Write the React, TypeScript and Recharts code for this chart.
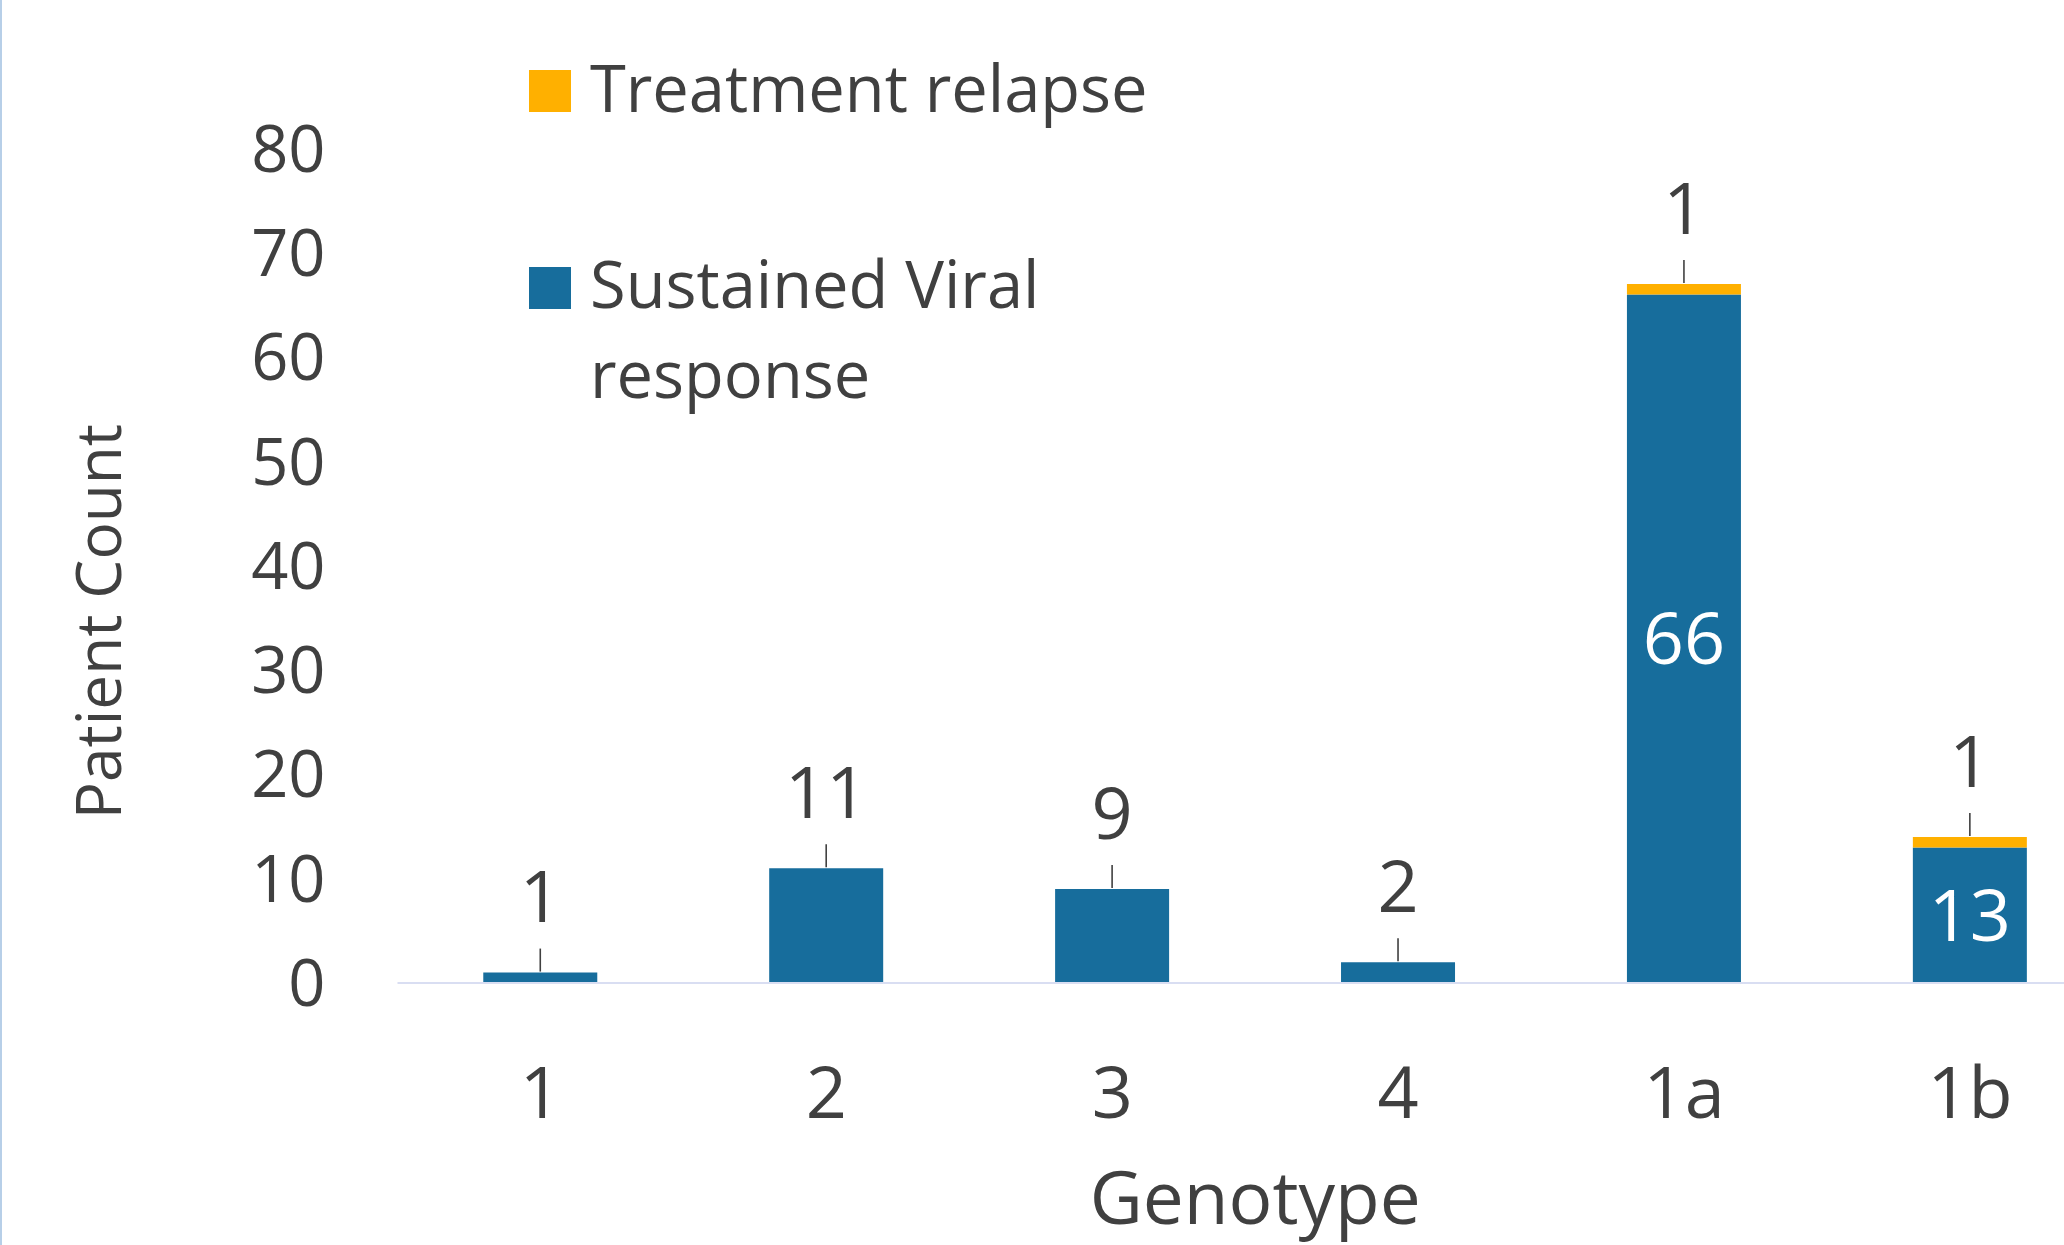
import React from 'react';
import { BarChart, Bar, XAxis, YAxis, LabelList, Label } from 'recharts';

// ---- data ----
const genotypes = ['1', '2', '3', '4', '1a', '1b'];
const sustainedViralResponse = [1, 11, 9, 2, 66, 13];
const treatmentRelapse = [0, 0, 0, 0, 1, 1];
const yTicks = [0, 10, 20, 30, 40, 50, 60, 70, 80];
const seriesNames = ['Treatment relapse', 'Sustained Viral response'];
const xTitle = 'Genotype';
const yTitle = 'Patient Count';

const data = genotypes.map((g, i) => ({
  genotype: g,
  svr: sustainedViralResponse[i],
  relapse: treatmentRelapse[i],
}));

// ---- styles ----
const BLUE = '#176D9C';
const ORANGE = '#FFB000';
const TEXT = '#404040';
const FONT = "'Open Sans', 'Noto Sans', sans-serif";
const LEADER = 24;
const LABEL_GAP = 52;

const callout = (cx: number, top: number, value: any, key?: string) => (
  <g key={key}>
    <line x1={cx} x2={cx} y1={top - 1} y2={top - LEADER} stroke={TEXT} strokeWidth={1.6} />
    <text
      x={cx}
      y={top - LEADER - LABEL_GAP}
      dy="0.355em"
      textAnchor="middle"
      fill={TEXT}
      fontSize={72}
      fontFamily={FONT}
    >
      {value}
    </text>
  </g>
);

const svrLabel = (props: any) => {
  const { x, y, width, height, value, index } = props;
  const cx = Number(x) + Number(width) / 2;
  if (treatmentRelapse[index] > 0) {
    return (
      <text
        x={cx}
        y={Number(y) + Number(height) / 2}
        dy="0.355em"
        textAnchor="middle"
        fill="#FFFFFF"
        fontSize={72}
        fontFamily={FONT}
      >
        {value}
      </text>
    );
  }
  return callout(cx, Number(y), value);
};

const relapseLabel = (props: any) => {
  const { x, y, width, value } = props;
  if (!value || Number(value) <= 0) return null;
  const cx = Number(x) + Number(width) / 2;
  return callout(cx, Number(y), value);
};

const YTitle = (props: any) => {
  const vb = props.viewBox || { x: 0, y: 0, width: 0, height: 0 };
  const cx = vb.x + 99;
  const cy = vb.y + vb.height * 0.567;
  return (
    <text
      x={cx}
      y={cy}
      dy="0.355em"
      transform={`rotate(-90, ${cx}, ${cy})`}
      textAnchor="middle"
      fill={TEXT}
      fontSize={62}
      fontFamily={FONT}
    >
      {yTitle}
    </text>
  );
};

const XTitle = (props: any) => {
  const vb = props.viewBox || { x: 0, y: 0, width: 0, height: 0 };
  return (
    <text
      x={vb.x + vb.width / 2}
      y={vb.y + 241}
      textAnchor="middle"
      fill={TEXT}
      fontSize={73}
      fontFamily={FONT}
    >
      {xTitle}
    </text>
  );
};

const LegendBox = () => (
  <svg
    width={1200}
    height={440}
    style={{ position: 'absolute', left: 0, top: 0, pointerEvents: 'none' }}
  >
    <rect x={529} y={70} width={42} height={42} fill={ORANGE} />
    <text x={590} y={112} fill={TEXT} fontSize={65} fontFamily={FONT}>
      {seriesNames[0]}
    </text>
    <rect x={529} y={267} width={42} height={42} fill={BLUE} />
    <text x={590} y={308} fill={TEXT} fontSize={65} fontFamily={FONT}>
      {seriesNames[1].split(' ').slice(0, 2).join(' ')}
    </text>
    <text x={590} y={398} fill={TEXT} fontSize={65} fontFamily={FONT}>
      {seriesNames[1].split(' ').slice(2).join(' ')}
    </text>
  </svg>
);

export default function App() {
  return (
    <div
      style={{
        position: 'absolute',
        left: 0,
        top: 0,
        width: 2064,
        height: 1245,
        overflow: 'hidden',
        background: '#FFFFFF',
      }}
    >
      <div
        style={{
          position: 'absolute',
          left: 0,
          top: 0,
          width: 2,
          height: 1245,
          background: '#B7CFE8',
        }}
      />
      <BarChart
        width={2113}
        height={1245}
        data={data}
        margin={{ top: 148.5, right: 0, bottom: 0, left: 0 }}
        barCategoryGap="30%"
        style={{ position: 'absolute', left: 0, top: 0 }}
      >
        <XAxis
          dataKey="genotype"
          height={262}
          tickLine={false}
          tickSize={0}
          tickMargin={84}
          axisLine={{ stroke: '#D9DEF2', strokeWidth: 2 }}
          tick={{ fill: TEXT, fontSize: 72, fontFamily: FONT }}
          label={<Label content={XTitle} />}
        />
        <YAxis
          width={397.5}
          domain={[0, 80]}
          ticks={yTicks}
          interval={0}
          axisLine={false}
          tickLine={false}
          tickSize={0}
          tickMargin={72}
          tick={{ fill: TEXT, fontSize: 65, fontFamily: FONT }}
          label={<Label content={YTitle} />}
        />
        <Bar dataKey="svr" name={seriesNames[1]} stackId="a" fill={BLUE} isAnimationActive={false}>
          <LabelList dataKey="svr" content={svrLabel} />
        </Bar>
        <Bar dataKey="relapse" name={seriesNames[0]} stackId="a" fill={ORANGE} isAnimationActive={false}>
          <LabelList dataKey="relapse" content={relapseLabel} />
        </Bar>
      </BarChart>
      <LegendBox />
    </div>
  );
}
